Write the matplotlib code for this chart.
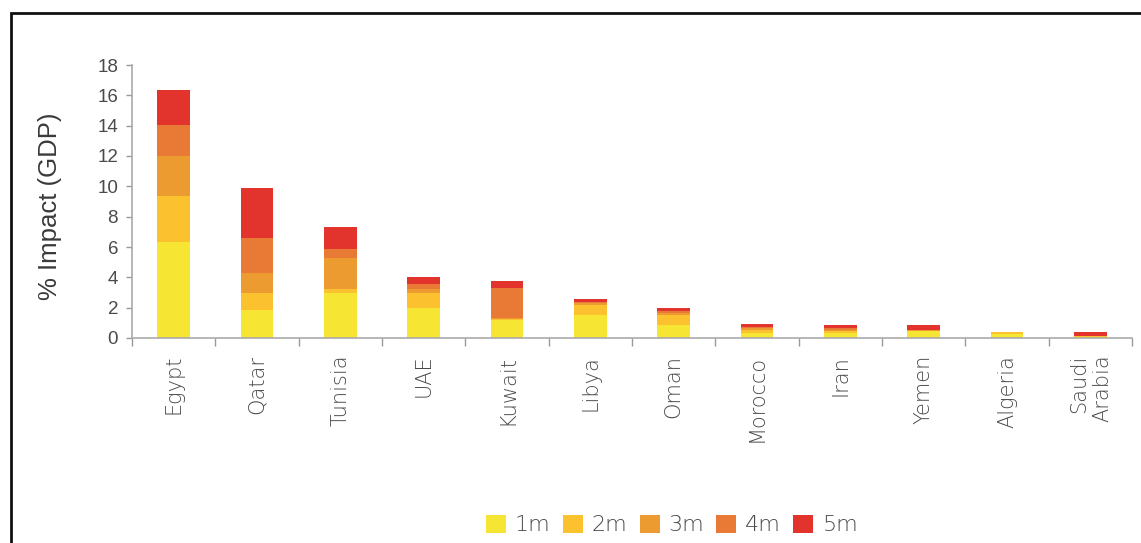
import matplotlib.pyplot as plt
from matplotlib.patches import Rectangle
import numpy as np

# impact by month of disruption, % of GDP
countries = ["Egypt", "Qatar", "Tunisia", "UAE", "Kuwait", "Libya", "Oman",
             "Morocco", "Iran", "Yemen", "Algeria", "Saudi\nArabia"]
m1 = [6.33, 1.85, 2.99, 1.95, 1.20, 1.50, 0.85, 0.35, 0.30, 0.45, 0.25, 0.08]
m2 = [3.03, 1.14, 0.27, 1.00, 0.05, 0.65, 0.65, 0.20, 0.15, 0.03, 0.12, 0.02]
m3 = [2.66, 1.30, 2.01, 0.25, 0.08, 0.15, 0.15, 0.10, 0.10, 0.02, 0.00, 0.00]
m4 = [2.05, 2.28, 0.58, 0.35, 1.95, 0.10, 0.10, 0.10, 0.10, 0.02, 0.00, 0.00]
m5 = [2.30, 3.34, 1.45, 0.45, 0.45, 0.15, 0.25, 0.20, 0.20, 0.35, 0.00, 0.27]
series = [m1, m2, m3, m4, m5]
labels = ["1m", "2m", "3m", "4m", "5m"]
colors = ["#f6e532", "#fbc12e", "#ec9b30", "#e87a35", "#e2342c"]

fig = plt.figure(figsize=(11.41, 5.43), dpi=100)
ax = fig.add_axes([132/1141, 1 - 338/543, 1000/1141, 273/543])

x = np.arange(len(countries))
bottom = np.zeros(len(countries))
handles = []
for vals, lab, col in zip(series, labels, colors):
    b = ax.bar(x, vals, width=0.39, bottom=bottom, color=col, label=lab)
    handles.append(b)
    bottom += np.array(vals)

ax.set_xlim(-0.5, 11.5)
ax.set_ylim(0, 18)
ax.set_yticks(range(0, 19, 2))
ax.tick_params(axis="y", colors="#999999", length=4, width=1, labelsize=13.5,
               labelcolor="#4a4a4a", pad=6)
for t in ax.get_yticklabels():
    t.set_family("Liberation Sans")

# category boundaries as ticks, names under the bars
ax.set_xticks(np.arange(-0.5, 12, 1))
ax.set_xticklabels([])
ax.tick_params(axis="x", colors="#999999", length=6, width=1)
for xi, name in zip(x, countries):
    ax.text(xi, -1.1, name, rotation=90, ha="center", va="top",
            multialignment="right", fontsize=15, family="DejaVu Sans",
            weight="light", color="#4a4a4a", linespacing=1.2)

for s in ["top", "right"]:
    ax.spines[s].set_visible(False)
for s in ["left", "bottom"]:
    ax.spines[s].set_color("#aaaaaa")
    ax.spines[s].set_linewidth(1.2)

fig.text(50/1141, 1 - 206/543, "% Impact (GDP)", rotation=90, ha="center",
         va="center", fontsize=18.5, family="Liberation Sans", color="#3a3a3a")

fig.legend(handles=handles, labels=labels, loc="center",
           bbox_to_anchor=(672/1141, 1 - 525/543), ncol=5, frameon=False,
           handlelength=0.9, handleheight=0.9, handletextpad=0.4,
           columnspacing=0.55, prop={"family": "DejaVu Sans", "size": 16,
                                     "weight": "light"},
           labelcolor="#4a4a4a")

# frame around the figure, open at the right and bottom
fig.add_artist(Rectangle((11/1141, -0.05), 1.2, 1 - 13/543 + 0.05,
                         transform=fig.transFigure, fill=False,
                         edgecolor="#111111", linewidth=2, clip_on=False))

fig.savefig("out.png", dpi=100)
